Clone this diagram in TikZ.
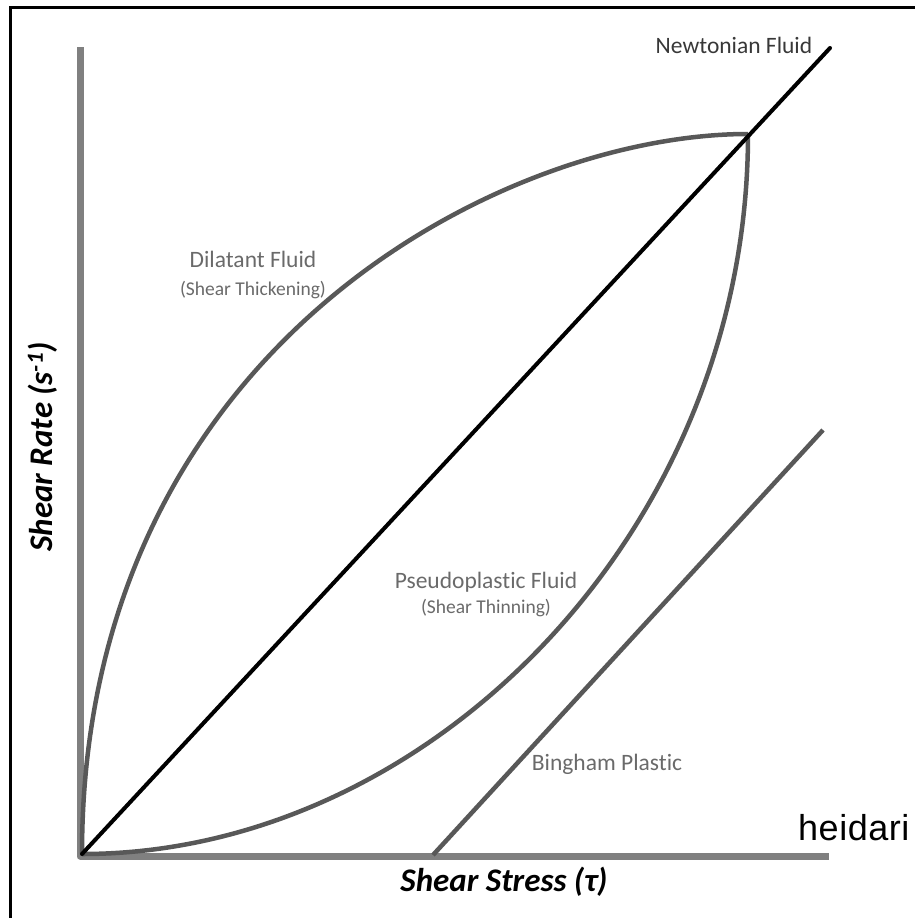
\documentclass[tikz,border=0pt]{standalone}
\usepackage{fontspec}
\setmainfont{Carlito}[Ligatures=NoCommon]
\newfontfamily\wmfont{Liberation Sans}[LetterSpace=1.5]
\usetikzlibrary{positioning}
\definecolor{axgrey}{HTML}{808080}
\definecolor{cvgrey}{HTML}{585858}
\definecolor{lbgrey}{HTML}{6A6A6A}

\begin{document}
\begin{tikzpicture}[x=1pt,y=-1pt,
  ax/.style={draw=axgrey,line width=7pt,line join=round},
  cv/.style={draw=cvgrey,line width=4.5pt},
  lb/.style={text=lbgrey,font=\fontsize{23.5}{26}\selectfont,inner sep=0pt,anchor=base},
  sub/.style={text=lbgrey,font=\fontsize{19.5}{22}\selectfont,inner sep=0pt,anchor=base},
  axl/.style={font=\fontsize{33}{36}\selectfont\bfseries\itshape,inner sep=0pt,anchor=base}]
\useasboundingbox (0,0) rectangle (915,918);
% frame
\draw[line width=3pt] (10,940) -- (10,7) -- (940,7);

\coordinate (O) at (82,854);
\coordinate (T) at (748,134);
\coordinate (N) at (830,48);
\coordinate (B0) at (433,855);
\coordinate (B1) at (823,430);
\coordinate (ytop) at (80,47);
\coordinate (xend) at (829,856);

% axes
\draw[ax] (ytop) -- (80,856) -- (xend);

% curves
\draw[cv] (O) .. controls (82,350) and (500,134) .. (T);
\draw[cv] (O) .. controls (430,854) and (748,530) .. (T);
\draw[cv] (B0) -- (B1);
\draw[line width=4pt,line cap=round] (O) -- (N);

% labels
\node[lb,text=black!78] (newt) at (734,53) {Newtonian Fluid};
\node[lb] (dil) at (253,267) {Dilatant Fluid};
\node[sub] (dilsub) at (253,295) {(Shear Thickening)};
\node[lb] (pseudo) at (486,588) {Pseudoplastic Fluid};
\node[sub] (pseudosub) at (486,613) {(Shear Thinning)};
\node[lb] (bing) at (607,770) {Bingham Plastic};
\node[axl] (xlab) at (504,891) {Shear Stress (τ)};
\node[axl,rotate=90] (ylab) at (52,447) {Shear Rate (s\textsuperscript{-1})};
\node[font=\wmfont\fontsize{36}{40}\selectfont,inner sep=0pt,anchor=base west] (wm) at (798,840) {heidari};
\end{tikzpicture}
\end{document}
